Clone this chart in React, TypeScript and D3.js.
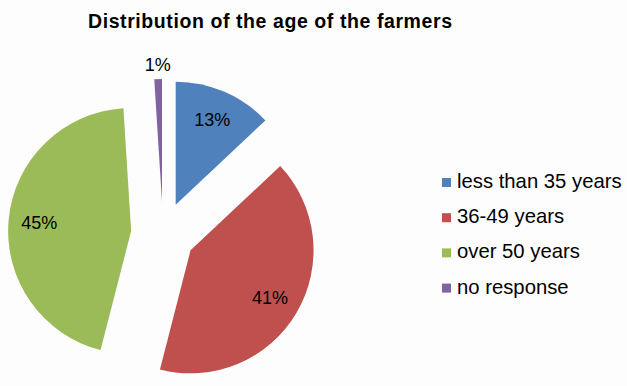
import React from 'react';
import { pie, arc, PieArcDatum } from 'd3';

const categories = ['less than 35 years', '36-49 years', 'over 50 years', 'no response'];
const shares = [13, 41, 45, 1];
const colors = ['#4F81BD', '#C0504D', '#9BBB59', '#8064A2'];

const width = 627;
const height = 386;
const cx = 163;
const cy = 234;
const radius = 123;
const explode = 32;

type Row = { name: string; value: number; color: string };

const rows: Row[] = categories.map((name, i) => ({ name, value: shares[i], color: colors[i] }));

const App = () => {
  const layout = pie<Row>().sort(null).value((d) => d.value);
  const slices = layout(rows);
  const sliceArc = arc<PieArcDatum<Row>>().innerRadius(0).outerRadius(radius);

  const offset = (d: PieArcDatum<Row>, dist: number) => {
    const mid = (d.startAngle + d.endAngle) / 2;
    return [Math.sin(mid) * dist, -Math.cos(mid) * dist];
  };

  return (
    <svg
      width={width}
      height={height}
      style={{ position: 'absolute', left: 0, top: 0, background: '#fdfdfd' }}
    >
      <text
        x={270}
        y={28}
        textAnchor="middle"
        fontFamily="'Liberation Sans', Arial, sans-serif"
        fontWeight="bold"
        fontSize={19.5}
        textLength={364}
        lengthAdjust="spacing"
        fill="#000"
      >
        Distribution  of the age of the farmers
      </text>
      <g transform={`translate(${cx},${cy})`}>
        {slices.map((d, i) => {
          const [ox, oy] = offset(d, explode);
          const small = d.data.value < 5;
          const [lx, ly] = offset(d, small ? radius + 14 : radius * 0.75);
          return (
            <g key={i} transform={`translate(${ox},${oy})`}>
              <path d={sliceArc(d) || ''} fill={d.data.color} />
              <text
                x={lx}
                y={ly}
                dy="0.35em"
                textAnchor="middle"
                fontFamily="'Liberation Sans', Arial, sans-serif"
                fontSize={18}
                fill="#000"
              >
                {d.data.value}%
              </text>
            </g>
          );
        })}
      </g>
      <g transform="translate(442,178)">
        {rows.map((r, i) => (
          <g key={r.name} transform={`translate(0,${i * 35.2})`}>
            <rect width={9} height={9} fill={r.color} />
            <text
              x={15}
              y={10}
              fontFamily="'Liberation Sans', Arial, sans-serif"
              fontSize={20.3}
              fill="#000"
            >
              {r.name}
            </text>
          </g>
        ))}
      </g>
    </svg>
  );
};

export default App;
